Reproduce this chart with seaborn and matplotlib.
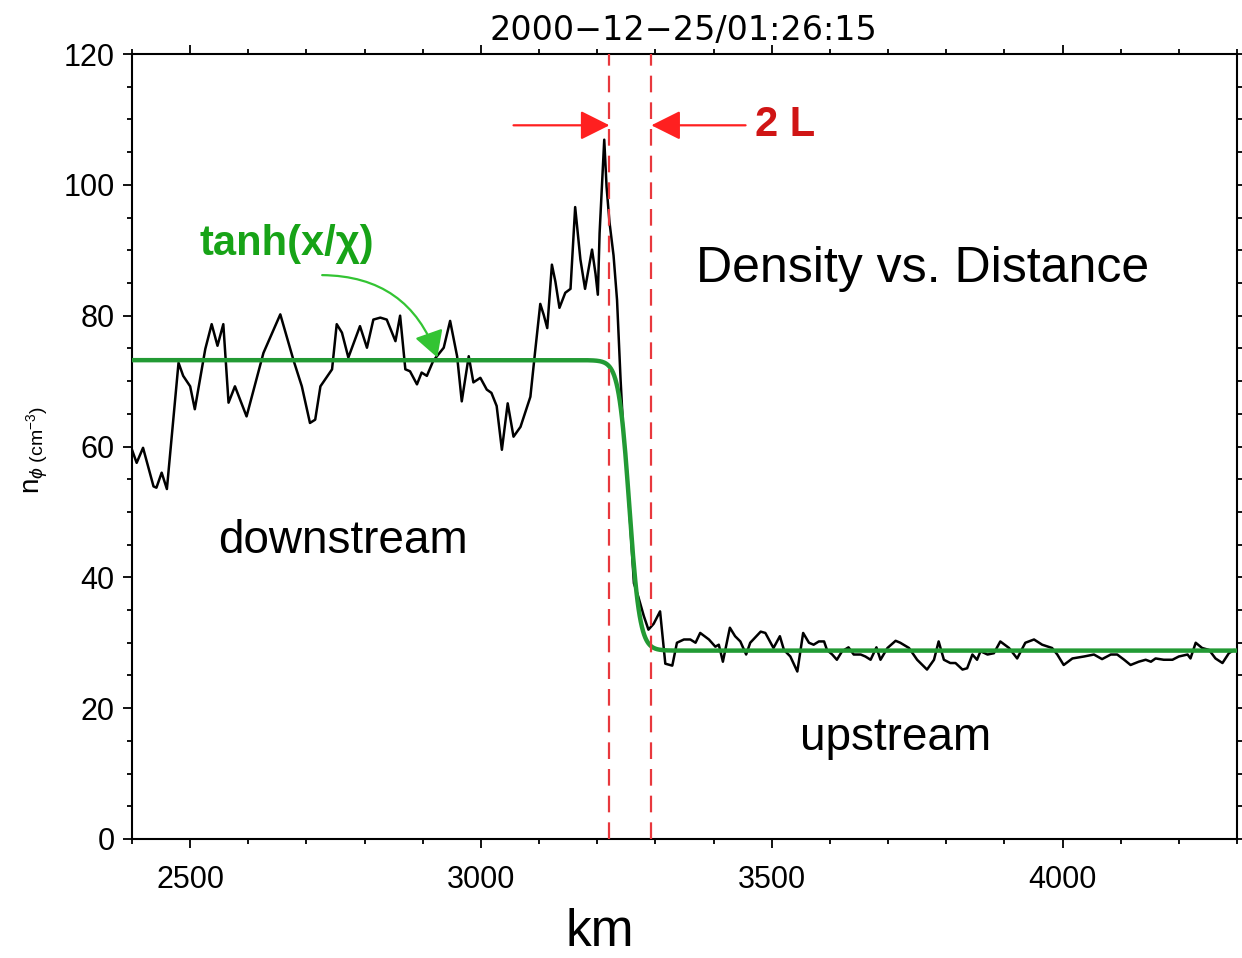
import numpy as np
import pandas as pd
import matplotlib
matplotlib.use('Agg')
import matplotlib.pyplot as plt
import seaborn as sns
from matplotlib.ticker import MultipleLocator

# ---------------- data ----------------
distance_km = [2400, 2408, 2419, 2437, 2442, 2451, 2460, 2480, 2488, 2500, 2508, 2526, 2537, 2547, 2557,
               2566, 2577, 2597, 2626, 2655, 2678, 2692, 2706, 2715, 2724, 2744, 2752, 2761, 2772, 2792,
               2804, 2815, 2827, 2838, 2853, 2861, 2870, 2878, 2890, 2898, 2907, 2918, 2936, 2947, 2959,
               2967, 2979, 2987, 2999, 3010, 3018, 3027, 3036, 3046, 3056, 3068, 3085, 3093, 3102, 3108,
               3114, 3122, 3128, 3135, 3145, 3154, 3162, 3171, 3179, 3191, 3197, 3201, 3204, 3212, 3216,
               3221, 3228, 3234, 3240, 3245, 3251, 3263, 3271, 3280, 3288, 3297, 3308, 3317, 3329, 3337,
               3349, 3360, 3369, 3377, 3392, 3403, 3409, 3416, 3428, 3437, 3446, 3456, 3463, 3481, 3489,
               3503, 3514, 3521, 3532, 3544, 3554, 3564, 3572, 3581, 3590, 3595, 3604, 3612, 3621, 3632,
               3641, 3653, 3661, 3670, 3680, 3687, 3699, 3713, 3721, 3736, 3750, 3767, 3779, 3787, 3796,
               3807, 3816, 3828, 3836, 3845, 3853, 3859, 3871, 3882, 3893, 3908, 3922, 3936, 3951, 3965,
               3982, 3991, 4002, 4017, 4037, 4054, 4068, 4083, 4094, 4106, 4117, 4131, 4143, 4152, 4160,
               4174, 4189, 4200, 4215, 4220, 4229, 4240, 4252, 4263, 4275, 4286, 4295]
density = [59.5, 57.5, 59.8, 53.9, 53.7, 56.0, 53.5, 72.8, 70.8, 69.2, 65.7, 74.9, 78.7, 75.4, 78.7,
           66.7, 69.2, 64.6, 74.3, 80.2, 73.1, 69.2, 63.6, 64.1, 69.2, 71.8, 78.7, 77.4, 73.6, 78.4,
           75.1, 79.4, 79.7, 79.4, 76.1, 80.0, 71.8, 71.5, 69.5, 71.3, 70.8, 73.1, 75.1, 79.2, 73.8,
           66.9, 73.8, 69.8, 70.5, 68.7, 68.2, 66.2, 59.5, 66.6, 61.5, 63.0, 67.6, 74.4, 81.8, 80.1,
           78.1, 87.8, 85.2, 81.2, 83.5, 84.1, 96.6, 88.6, 84.1, 90.1, 86.4, 83.2, 92.6, 106.9, 99.7,
           94.3, 89.2, 82.4, 70.4, 61.9, 56.2, 39.1, 36.9, 34.1, 32.0, 32.9, 34.8, 26.8, 26.5, 30.0,
           30.5, 30.5, 30.0, 31.5, 30.5, 29.4, 29.7, 27.1, 32.3, 31.0, 30.2, 28.2, 30.0, 31.7, 31.5,
           29.2, 31.0, 28.9, 27.9, 25.6, 31.5, 30.0, 29.7, 30.2, 30.2, 28.9, 28.2, 27.4, 28.7, 29.3,
           28.2, 28.2, 27.9, 27.4, 29.3, 27.4, 29.2, 30.3, 30.0, 29.2, 27.4, 25.9, 27.4, 30.2, 27.4,
           26.9, 26.9, 25.9, 26.1, 28.2, 27.4, 28.7, 28.2, 28.4, 30.2, 29.2, 27.6, 30.0, 30.5, 29.7,
           29.2, 28.2, 26.6, 27.6, 27.9, 28.2, 27.5, 28.2, 28.2, 27.4, 26.6, 27.1, 27.4, 27.1, 27.6,
           27.4, 27.4, 27.9, 28.2, 27.6, 30.0, 29.2, 28.9, 27.6, 26.9, 28.4, 28.9]

# tanh fit parameters (downstream level, upstream level, centre, scale)
fit_upper = 73.2
fit_lower = 28.8
fit_center_km = 3255
fit_scale_km = 18
shock_edges_km = [3221, 3293]

title_text = "2000\u221212\u221225/01:26:15"
x_range = [2400, 4300]
y_range = [0, 120]

# ---------------- style ----------------
sns.set_theme(style='ticks')
plt.rcParams['font.family'] = ['Liberation Sans', 'DejaVu Sans']
plt.rcParams['mathtext.fontset'] = 'custom'
plt.rcParams['mathtext.rm'] = 'Liberation Sans'
plt.rcParams['mathtext.it'] = 'Liberation Sans:italic'
plt.rcParams['mathtext.bf'] = 'Liberation Sans:bold'

W, H = 1242, 958
fig = plt.figure(figsize=(W / 100, H / 100), dpi=100)
fig.patch.set_facecolor('white')
ax = fig.add_axes([132 / W, 1 - 839 / H, (1237 - 132) / W, (839 - 54) / H])
ax.set_facecolor('white')

df = pd.DataFrame({'km': distance_km, 'n': density})
sns.lineplot(data=df, x='km', y='n', ax=ax, color='black', lw=1.8,
             sort=False, estimator=None, zorder=3)

fit_x = np.linspace(x_range[0], x_range[1], 1000)
fit_y = (fit_upper + fit_lower) / 2 - (fit_upper - fit_lower) / 2 * np.tanh((fit_x - fit_center_km) / fit_scale_km)
sns.lineplot(x=fit_x, y=fit_y, ax=ax, color='#229a34', lw=3.2,
             sort=False, estimator=None, zorder=4)

for xe in shock_edges_km:
    ax.axvline(xe, color='#e8383d', lw=1.6, linestyle=(0, (7.5, 4.5)), zorder=5)

ax.set_xlim(*x_range)
ax.set_ylim(*y_range)
ax.set_xlabel('')
ax.set_ylabel('')

ax.xaxis.set_major_locator(MultipleLocator(500))
ax.xaxis.set_minor_locator(MultipleLocator(100))
ax.yaxis.set_major_locator(MultipleLocator(20))
ax.yaxis.set_minor_locator(MultipleLocator(5))
ax.tick_params(which='both', direction='out', top=True, right=True,
               labeltop=False, labelright=False, colors='black', width=1.3)
ax.tick_params(which='major', length=6.5, labelsize=22)
ax.tick_params(which='minor', length=3.6)
ax.tick_params(axis='x', which='major', pad=12)
ax.tick_params(axis='y', which='major', pad=6)
for s in ax.spines.values():
    s.set_visible(True)
    s.set_color('black')
    s.set_linewidth(1.5)

# red 2L arrows
arrow_y = 109.1
red_arrow = dict(arrowstyle='-|>,head_length=0.9,head_width=0.45', mutation_scale=20,
                 color='#ff2020', lw=1.6, shrinkA=0, shrinkB=0)
ax.annotate('', xy=(shock_edges_km[0], arrow_y), xytext=(3056, arrow_y), arrowprops=red_arrow, zorder=6)
ax.annotate('', xy=(shock_edges_km[1], arrow_y), xytext=(3455, arrow_y), arrowprops=red_arrow, zorder=6)
ax.text(3472, arrow_y, '2 L', color='#d01515', fontsize=30, fontweight='bold',
        ha='left', va='center')

# green label and curved arrow
ax.text(2667, 90.9, 'tanh(x/χ)', color='#17a317', fontsize=30, fontweight='bold',
        ha='center', va='center')
ax.annotate('', xy=(2925, 73.6), xytext=(2727, 86.2),
            arrowprops=dict(arrowstyle='-|>,head_length=0.8,head_width=0.45', mutation_scale=20,
                            color='#33c433', lw=1.6, shrinkA=0, shrinkB=0,
                            connectionstyle='arc3,rad=-0.35'), zorder=6)

ax.text(3759, 87.1, 'Density vs. Distance', color='black', fontsize=36, ha='center', va='center')
ax.text(2763, 45.6, 'downstream', color='black', fontsize=33, ha='center', va='center')
ax.text(3713, 15.5, 'upstream', color='black', fontsize=33, ha='center', va='center')

# title, axis labels
fig.text(683.5 / W, 1 - 40 / H, title_text, ha='center', va='baseline', fontsize=24,
         color='black', family=['DejaVu Sans'])
fig.text(600 / W, 1 - 946 / H, 'km', ha='center', va='baseline', fontsize=37, color='black')
fig.text(36 / W, 1 - 450 / H, r'$\mathrm{n}_{\phi\ (\mathrm{cm}^{-3})}$', rotation=90,
         ha='center', va='center', fontsize=20, color='black')

fig.savefig('out.png', dpi=100, facecolor='white')
